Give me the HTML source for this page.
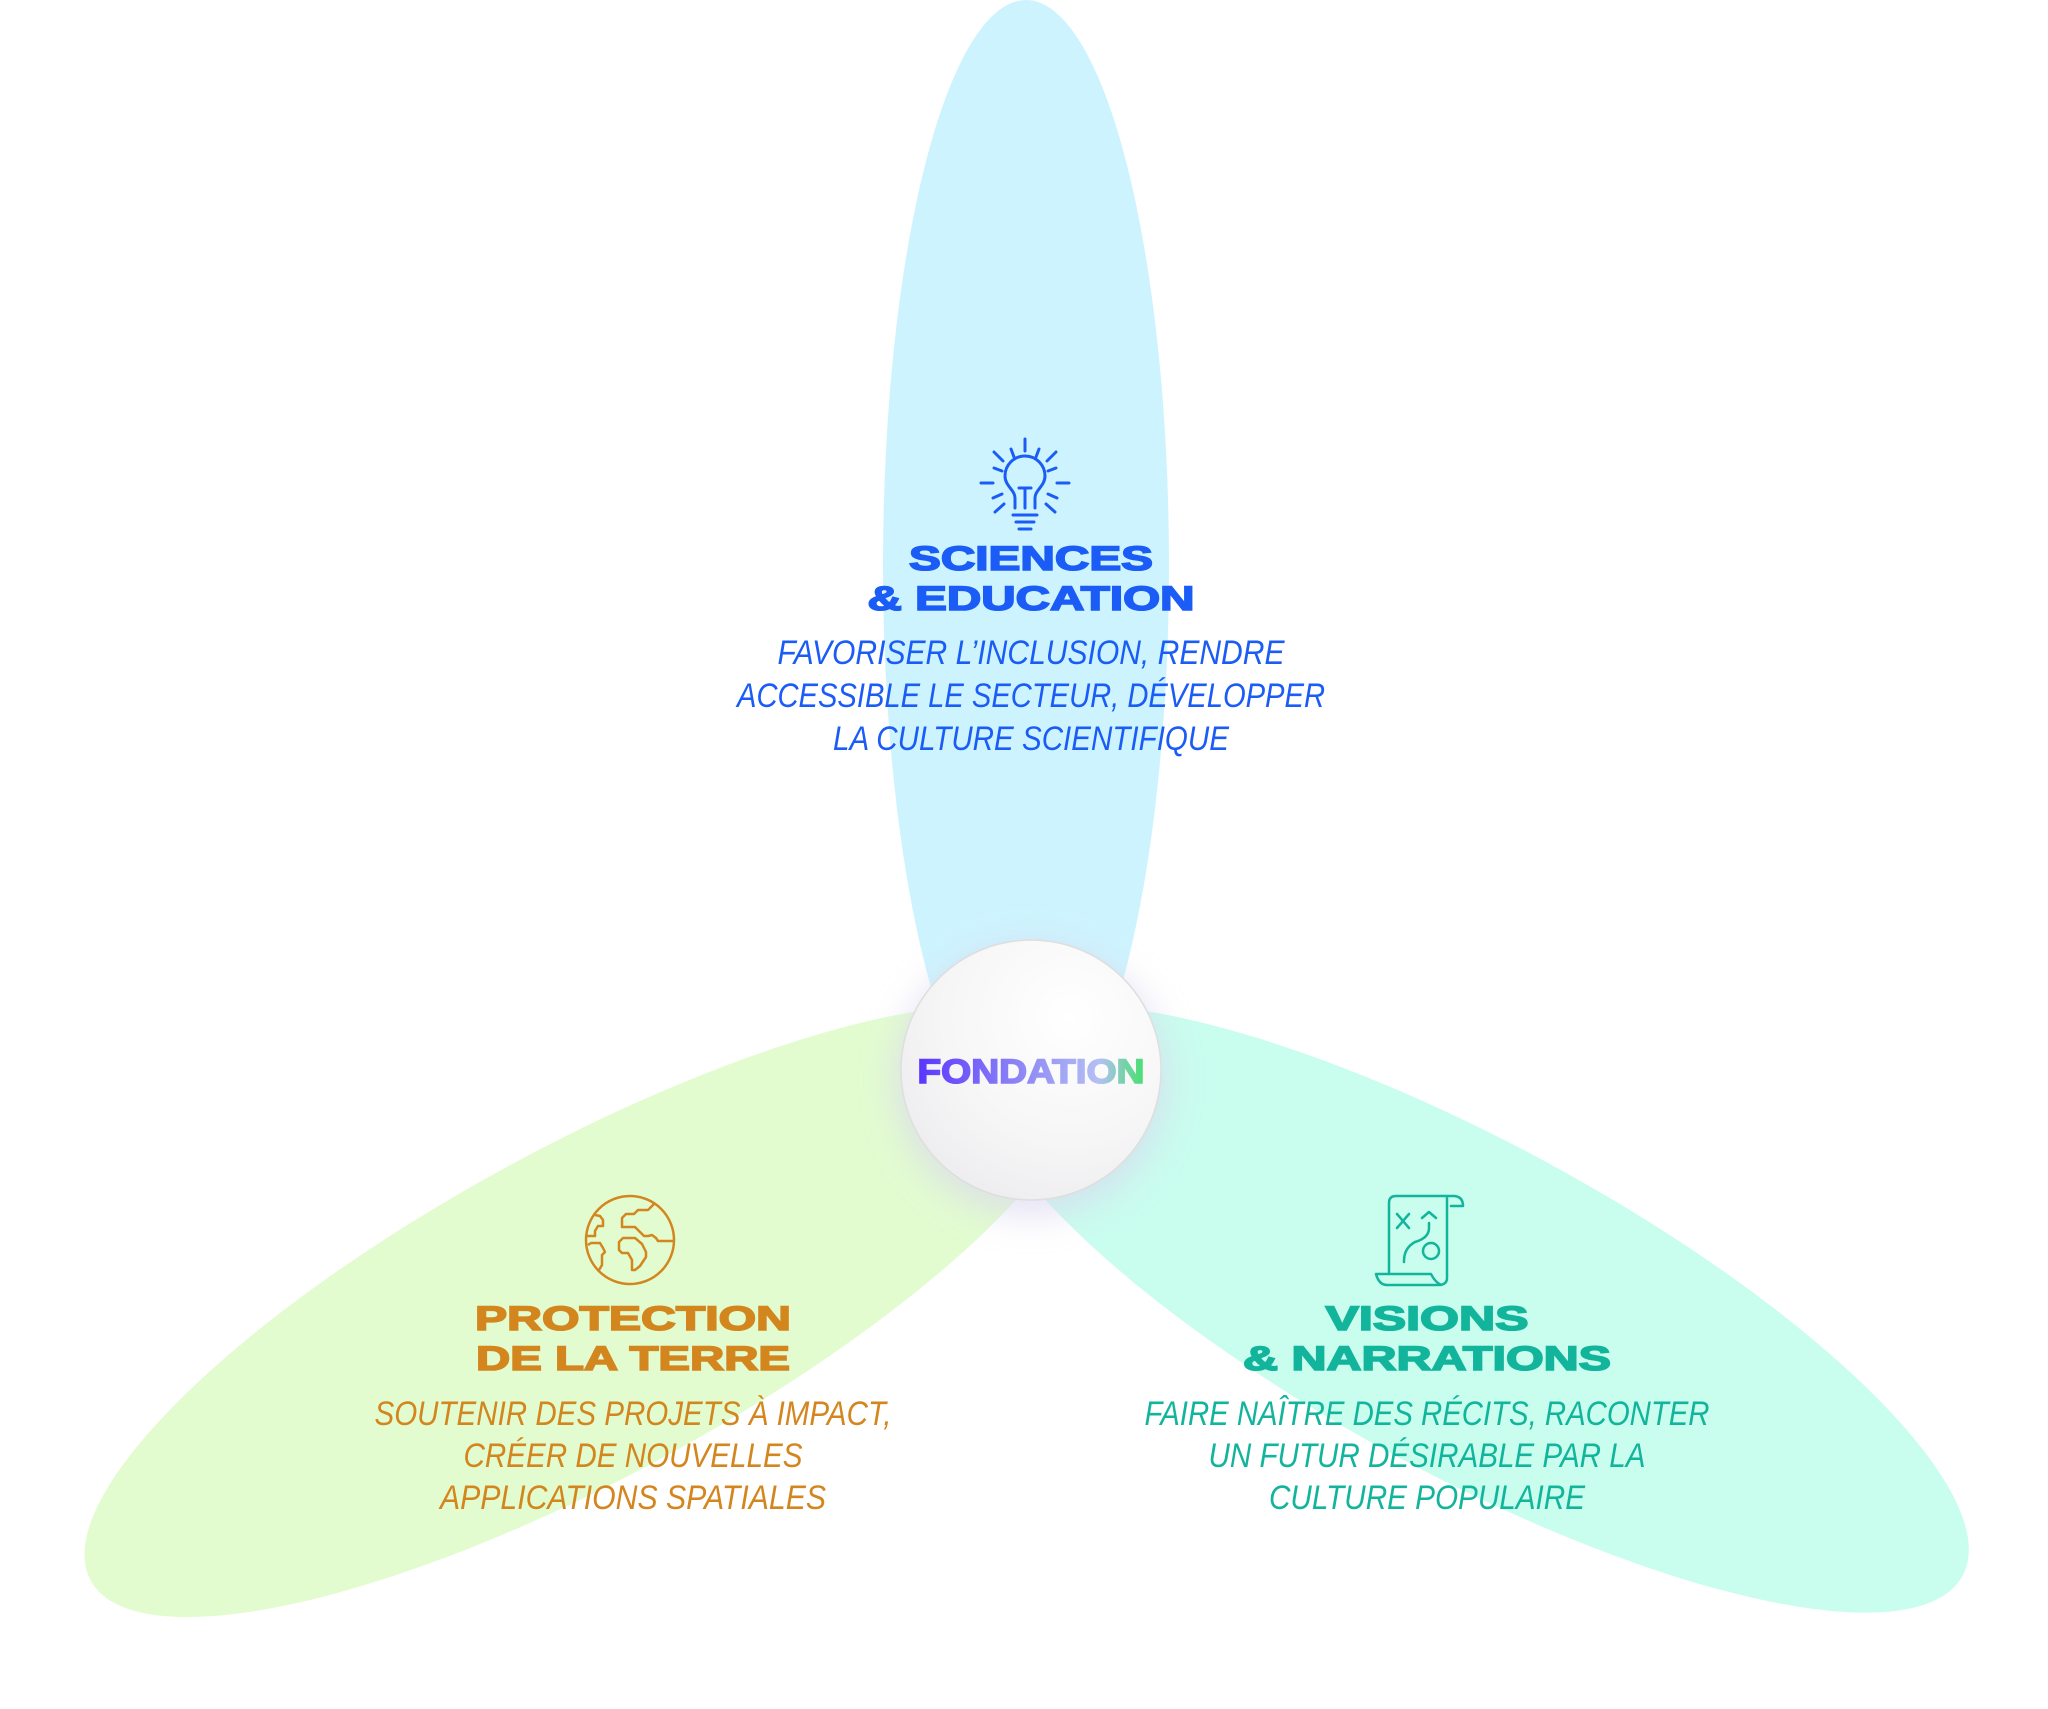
<!DOCTYPE html>
<html><head><meta charset="utf-8"><style>
html,body{margin:0;padding:0;background:#fff;}
svg{display:block;}
.h{font-family:"Liberation Sans",sans-serif;font-weight:bold;font-size:34px;text-anchor:middle;stroke-width:1.6px;}
.s{font-family:"Liberation Sans",sans-serif;font-style:italic;font-size:34px;text-anchor:middle;}
</style></head><body>
<svg width="2048" height="1709" viewBox="0 0 2048 1709" xmlns="http://www.w3.org/2000/svg">
<defs>
<radialGradient id="cg" cx="0.65" cy="0.3" r="0.8">
<stop offset="0" stop-color="#ffffff"/><stop offset="0.6" stop-color="#f6f6f7"/><stop offset="1" stop-color="#ececee"/>
</radialGradient>
<linearGradient id="fg" x1="0" x2="1" y1="0" y2="0">
<stop offset="0" stop-color="#5a36ff"/><stop offset="0.45" stop-color="#8d86f5"/><stop offset="0.8" stop-color="#b4c0f4"/><stop offset="1" stop-color="#46e06e"/>
</linearGradient>
<filter id="sh" x="-50%" y="-50%" width="200%" height="200%"><feGaussianBlur stdDeviation="18"/></filter>
</defs>
<ellipse cx="1026" cy="565" rx="143" ry="565" fill="#cdf4fe"/>
<g transform="translate(1031,1070)">
<ellipse cx="0" cy="-505" rx="165" ry="565" fill="#e2fcd0" transform="rotate(-118.5)"/>
<ellipse cx="0" cy="-500" rx="165" ry="560" fill="#c9fdee" transform="rotate(118.5)"/>
<circle cx="0" cy="10" r="135" fill="#d9d6ef" opacity="0.7" filter="url(#sh)"/>
<circle cx="0" cy="0" r="130" fill="url(#cg)" stroke="#dedede" stroke-width="1.5"/>
<text x="0" y="13" class="h" font-size="30" fill="url(#fg)" stroke="url(#fg)" textLength="227" lengthAdjust="spacingAndGlyphs">FONDATION</text>
</g>
<g transform="translate(-5,-2)">
<!-- bulb -->
<g stroke="#1a5cf5" stroke-width="3" fill="none" stroke-linecap="round">
<path d="M1020,510 L1020,500 C1020,492 1010,488 1010,478 A20,20 0 1 1 1050,478 C1050,488 1040,492 1040,500 L1040,510"/>
<path d="M1030,510 L1030,490 M1024,490 L1036,490 M1018,517 L1042,517 M1021,524 L1039,524 M1024,531 L1036,531"/>
<path d="M1030,441 L1030,453 M1016,451 L1019,459 M1044,451 L1041,459 M999,454 L1008,463 M1061,454 L1052,463 M999,470 L1007,473 M1061,470 L1053,473 M986,485 L998,485 M1074,485 L1062,485 M998,500 L1007,496 M1062,500 L1053,496 M1000,514 L1009,506 M1060,514 L1051,506"/>
</g>
<text class="h" x="1036" y="572" fill="#1a5cf5" stroke="#1a5cf5" textLength="244" lengthAdjust="spacingAndGlyphs">SCIENCES</text>
<text class="h" x="1036" y="612" fill="#1a5cf5" stroke="#1a5cf5" textLength="327" lengthAdjust="spacingAndGlyphs">&amp; EDUCATION</text>
<text class="s" x="1036" y="666" fill="#1a5cf5" textLength="507" lengthAdjust="spacingAndGlyphs">FAVORISER L’INCLUSION, RENDRE</text>
<text class="s" x="1036" y="709" fill="#1a5cf5" textLength="588" lengthAdjust="spacingAndGlyphs">ACCESSIBLE LE SECTEUR, DÉVELOPPER</text>
<text class="s" x="1036" y="752" fill="#1a5cf5" textLength="396" lengthAdjust="spacingAndGlyphs">LA CULTURE SCIENTIFIQUE</text>
<!-- globe -->
<g stroke="#d4861e" stroke-width="2.5" fill="none" stroke-linejoin="round">
<circle cx="635" cy="1242" r="44"/>
<path d="M659,1206 L653,1212 L643,1212 L639,1216 L631,1216 L627,1220 L627,1229 L640,1229 L649,1238 L653,1238 L657,1237 L661,1240 L663,1243 L679,1243"/>
<path d="M600,1217 L605,1218 L608,1222 L608,1228 L603,1228 L600,1233 L600,1238 L592,1238"/>
<path d="M593,1247 L596,1245 L605,1245 L608,1250 L610,1254 L607,1257 L607,1267 L604,1272"/>
<path d="M628,1240 L640,1240 L647,1246 L651,1254 L651,1259 L645,1268 L640,1272 L637,1272 L637,1262 L633,1255 L627,1255 L624,1252 L624,1244 Z"/>
</g>
<text class="h" x="638" y="1332" fill="#d4861e" stroke="#d4861e" textLength="316" lengthAdjust="spacingAndGlyphs">PROTECTION</text>
<text class="h" x="638" y="1372" fill="#d4861e" stroke="#d4861e" textLength="314" lengthAdjust="spacingAndGlyphs">DE LA TERRE</text>
<text class="s" x="638" y="1427" fill="#d4861e" textLength="517" lengthAdjust="spacingAndGlyphs">SOUTENIR DES PROJETS À IMPACT,</text>
<text class="s" x="638" y="1469" fill="#d4861e" textLength="339" lengthAdjust="spacingAndGlyphs">CRÉER DE NOUVELLES</text>
<text class="s" x="638" y="1511" fill="#d4861e" textLength="386" lengthAdjust="spacingAndGlyphs">APPLICATIONS SPATIALES</text>
<!-- map -->
<g stroke="#12b59c" stroke-width="2.5" fill="none" stroke-linecap="round" stroke-linejoin="round">
<path d="M1394,1275 L1394,1205 Q1394,1198 1401,1198 L1458,1198 Q1468,1198 1468,1208 L1456,1208"/>
<path d="M1452,1200 Q1452,1206 1452,1212 L1452,1280 Q1452,1287 1443,1287 L1392,1287 Q1384,1287 1381,1276 L1436,1276 Q1440,1284 1446,1287"/>
<path d="M1402,1216 L1414,1230 M1414,1216 L1402,1230 M1434,1225 L1434,1230 Q1434,1240 1420,1244 Q1409,1250 1409,1263 L1409,1264 M1427,1220 L1434,1214 L1441,1220"/>
<circle cx="1436" cy="1253" r="8"/>
</g>
<text class="h" x="1432" y="1332" fill="#12b59c" stroke="#12b59c" textLength="203" lengthAdjust="spacingAndGlyphs">VISIONS</text>
<text class="h" x="1432" y="1372" fill="#12b59c" stroke="#12b59c" textLength="368" lengthAdjust="spacingAndGlyphs">&amp; NARRATIONS</text>
<text class="s" x="1432" y="1427" fill="#12b59c" textLength="565" lengthAdjust="spacingAndGlyphs">FAIRE NAÎTRE DES RÉCITS, RACONTER</text>
<text class="s" x="1432" y="1469" fill="#12b59c" textLength="437" lengthAdjust="spacingAndGlyphs">UN FUTUR DÉSIRABLE PAR LA</text>
<text class="s" x="1432" y="1511" fill="#12b59c" textLength="316" lengthAdjust="spacingAndGlyphs">CULTURE POPULAIRE</text>
</g>
</svg>
</body></html>
